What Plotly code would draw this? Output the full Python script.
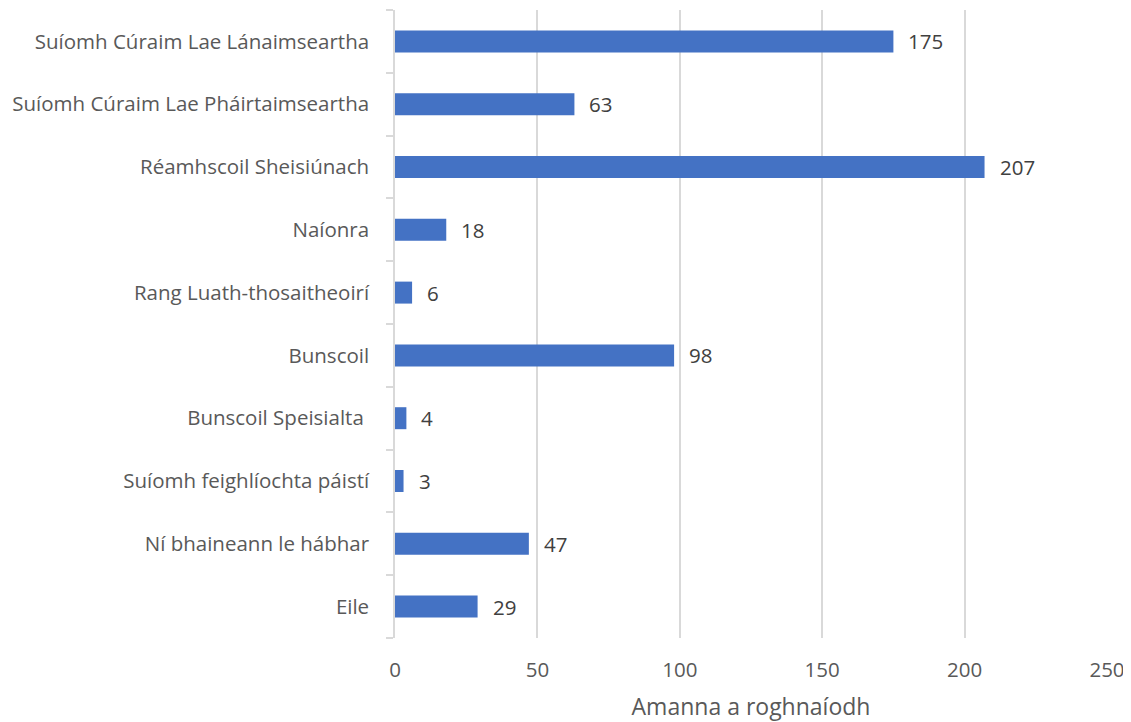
import plotly.graph_objects as go

categories = [
    "Suíomh Cúraim Lae Lánaimseartha",
    "Suíomh Cúraim Lae Pháirtaimseartha",
    "Réamhscoil Sheisiúnach",
    "Naíonra",
    "Rang Luath-thosaitheoirí",
    "Bunscoil",
    "Bunscoil Speisialta ",
    "Suíomh feighlíochta páistí",
    "Ní bhaineann le hábhar",
    "Eile",
]
values = [175, 63, 207, 18, 6, 98, 4, 3, 47, 29]
x_ticks = [0, 50, 100, 150, 200, 250]
x_title = "Amanna a roghnaíodh"

FONT = "'Open Sans', sans-serif"

fig = go.Figure()
fig.add_trace(go.Bar(
    y=categories,
    x=values,
    orientation="h",
    marker=dict(color="#4472C4", line=dict(width=0)),
    width=0.35,
    hoverinfo="x+y",
))

for c, v in zip(categories, values):
    fig.add_annotation(
        x=v, y=c, text=str(v), showarrow=False,
        xanchor="left", xshift=13,
        font=dict(family=FONT, size=20.5, color="#404040"),
    )

# page body has an 8px default margin; compensate so the plot lands where the reference has it
fig.update_layout(
    width=1123, height=714,
    margin=dict(l=387, r=24, t=2, b=83.5, autoexpand=False),
    plot_bgcolor="white", paper_bgcolor="white",
    showlegend=False,
    font=dict(family=FONT, size=20.5, color="#595959"),
    bargap=0.65,
)
fig.update_xaxes(
    range=[0, 250], tickvals=x_ticks,
    showgrid=True, gridcolor="#d9d9d9", gridwidth=1.5,
    zeroline=False, showline=False,
    ticks="", ticklabelstandoff=17,
    tickfont=dict(family=FONT, size=20.5, color="#595959"),
    title=dict(text=x_title, font=dict(family=FONT, size=23, color="#595959"), standoff=19),
)
fig.update_yaxes(
    categoryorder="array", categoryarray=categories[::-1],
    autorange=False, range=[-0.5, 9.5],
    showgrid=False, zeroline=False,
    showline=True, linecolor="#d9d9d9", linewidth=1.5,
    ticks="outside", tickson="boundaries", ticklen=7, tickcolor="#d9d9d9", tickwidth=1.5,
    ticklabelstandoff=20,
    tickfont=dict(family=FONT, size=20.5, color="#595959"),
)

fig.write_html("out.html")
